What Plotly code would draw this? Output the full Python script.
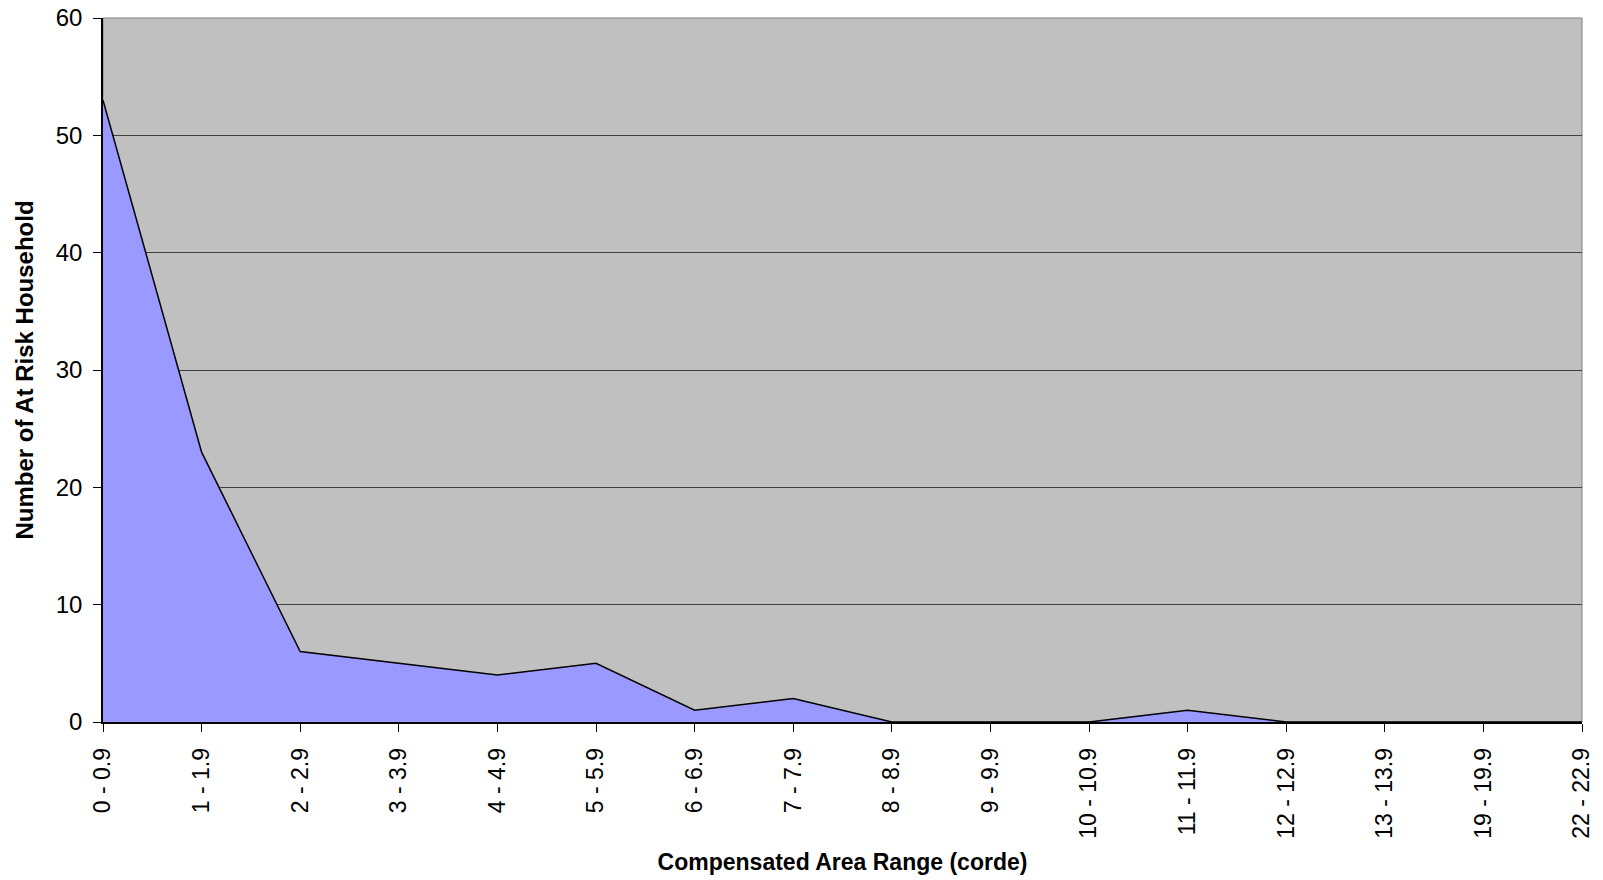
import plotly.graph_objects as go

# data
categories = ["0 - 0.9", "1 - 1.9", "2 - 2.9", "3 - 3.9", "4 - 4.9", "5 - 5.9",
              "6 - 6.9", "7 - 7.9", "8 - 8.9", "9 - 9.9", "10 - 10.9", "11 - 11.9",
              "12 - 12.9", "13 - 13.9", "19 - 19.9", "22 - 22.9"]
households = [53, 23, 6, 5, 4, 5, 1, 2, 0, 0, 0, 1, 0, 0, 0, 0]

font = "Liberation Sans, Arial, sans-serif"

fig = go.Figure(go.Scatter(
    x=categories,
    y=households,
    mode="lines",
    fill="tozeroy",
    fillcolor="#9999FF",
    line=dict(color="black", width=1.5),
    hoverinfo="x+y",
))

fig.update_layout(
    width=1603,
    height=880,
    margin=dict(l=103, r=21, t=18, b=158),
    paper_bgcolor="white",
    plot_bgcolor="#C0C0C0",
    showlegend=False,
    font=dict(family=font, size=23, color="black"),
)

fig.update_xaxes(
    type="category",
    range=[0, len(categories) - 1],
    tickangle=-90,
    ticks="outside",
    ticklen=8,
    tickcolor="black",
    tickfont=dict(size=23),
    ticklabelstandoff=7,
    showgrid=False,
    showline=True,
    linecolor="black",
    linewidth=1.5,
    zeroline=False,
    title=dict(text="<b>Compensated Area Range (corde)</b>", font=dict(size=23), standoff=16),
    automargin=False,
)

fig.update_yaxes(
    range=[0, 60],
    dtick=10,
    ticks="outside",
    ticklen=8,
    tickcolor="black",
    tickfont=dict(size=24),
    ticklabelstandoff=6,
    showgrid=True,
    gridcolor="#404040",
    gridwidth=1,
    showline=True,
    linecolor="black",
    linewidth=1.5,
    zeroline=False,
    title=dict(text="<b>Number of At Risk Household</b>", font=dict(size=24), standoff=15),
    automargin=False,
)

# grey border around the plot area (top and right edges)
fig.add_shape(type="rect", xref="paper", yref="paper", x0=0, x1=1, y0=0, y1=1,
              line=dict(color="#808080", width=1), layer="below")

# drop the default body margin so the figure fills the window
fig.write_html("out.html", config={"displayModeBar": False},
               post_script="document.body.style.margin='0px';")
